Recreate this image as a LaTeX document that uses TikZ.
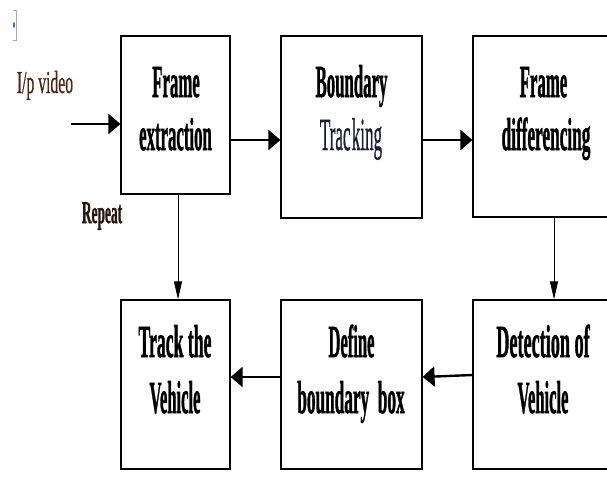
\documentclass[tikz,border=0pt]{standalone}
\usepackage{fontspec}
\setmainfont{Liberation Serif}
\newfontfamily\heavyfont{Liberation Serif}[FakeBold=1.6,UprightFont=*-Bold]
\newfontfamily\midfont{Liberation Serif}[FakeBold=1.0]
\usetikzlibrary{arrows.meta}
\newcommand{\sqz}[2][0.365]{\scalebox{#1}[1]{#2}}
\definecolor{inbrown}{RGB}{80,36,16}
\definecolor{repcol}{RGB}{40,22,12}
\definecolor{trkcol}{RGB}{25,30,55}
\definecolor{markgray}{RGB}{170,170,170}
\definecolor{markblue}{RGB}{70,110,220}
\tikzset{
  blk/.style={draw=black, line width=1.2pt, inner sep=0pt, fill=white},
  lbl/.style={font=\heavyfont\fontsize{46}{46}\selectfont, inner sep=0pt, anchor=base},
  lblr/.style={font=\midfont\fontsize{46}{46}\selectfont, inner sep=0pt, anchor=base},
  side/.style={font=\midfont\fontsize{32}{32}\selectfont, inner sep=0pt, anchor=base},
  harrow/.style={line width=2.4pt, -{Triangle[length=12pt,width=20pt]}},
  varrow/.style={line width=1pt, -{Triangle[length=18pt,width=8pt]}}
}
\begin{document}
\begin{tikzpicture}[x=1pt,y=-1pt]
\useasboundingbox (0,0) rectangle (607,483);
\clip (0,0) rectangle (607,483);
% anchor mark
\draw[markgray, line width=1pt] (13,10) -- (16,10) -- (16,40) -- (13,40);
\fill[markblue] (14,25) ellipse (1.2pt and 3pt);
% boxes
\node[blk, minimum width=109pt, minimum height=158pt] (b1) at (175.5,115) {};
\node[blk, minimum width=141pt, minimum height=182pt] (b2) at (351.5,127) {};
\node[blk, minimum width=144pt, minimum height=181pt] (b3) at (545,126.5) {};
\node[blk, minimum width=109pt, minimum height=169pt] (b4) at (175.5,384.5) {};
\node[blk, minimum width=141pt, minimum height=169pt] (b5) at (351.5,384.5) {};
\node[blk, minimum width=144pt, minimum height=169pt] (b6) at (545,384.5) {};
% labels
\node[lbl] (t1a) at (176,97) {\sqz{Frame}};
\node[lbl] (t1b) at (175.5,150) {\sqz{extraction}};
\node[lbl] (t2a) at (351.5,97) {\sqz{Boundary}};
\node[lblr, text=trkcol] (t2b) at (351,150) {\sqz[0.37]{Trac\kern0.08em king}};
\node[lbl] (t3a) at (543.5,97) {\sqz{Frame}};
\node[lbl] (t3b) at (546,150) {\sqz[0.375]{differencing}};
\node[lbl] (t4a) at (175,357) {\sqz[0.385]{Track the}};
\node[lbl] (t4b) at (175,413) {\sqz[0.36]{Vehicle}};
\node[lbl] (t5a) at (351.5,357) {\sqz[0.36]{Define}};
\node[lbl] (t5b) at (351,413) {\sqz[0.375]{boundary\hspace{0.5em}box}};
\node[lbl] (t6a) at (543,357) {\sqz[0.395]{Detection of}};
\node[lbl] (t6b) at (543,413) {\sqz[0.36]{Vehicle}};
\node[side, text=inbrown] (inlbl) at (45,93) {\sqz[0.49]{I/p video}};
\node[side, text=repcol, font=\heavyfont\fontsize{32}{32}\selectfont] (rep) at (102,223) {\sqz[0.42]{Repeat}};
% connectors
\coordinate (in) at (71,124);
\draw[harrow] (in) -- ([yshift=-9pt]b1.west);
\draw[harrow] ([yshift=-25pt]b1.east) -- ([yshift=-13pt]b2.west);
\draw[harrow] ([yshift=-13pt]b2.east) -- ([yshift=-13.5pt]b3.west);
\draw[varrow] ([xshift=2.5pt]b1.south) -- ([xshift=2.5pt]b4.north);
\draw[varrow] ([xshift=9pt]b3.south) -- ([xshift=9pt]b6.north);
\draw[harrow] ([yshift=9.5pt]b6.west) -- ([yshift=7.5pt]b5.east);
\draw[harrow] ([yshift=7.5pt]b5.west) -- ([yshift=7.5pt]b4.east);
\end{tikzpicture}
\end{document}
